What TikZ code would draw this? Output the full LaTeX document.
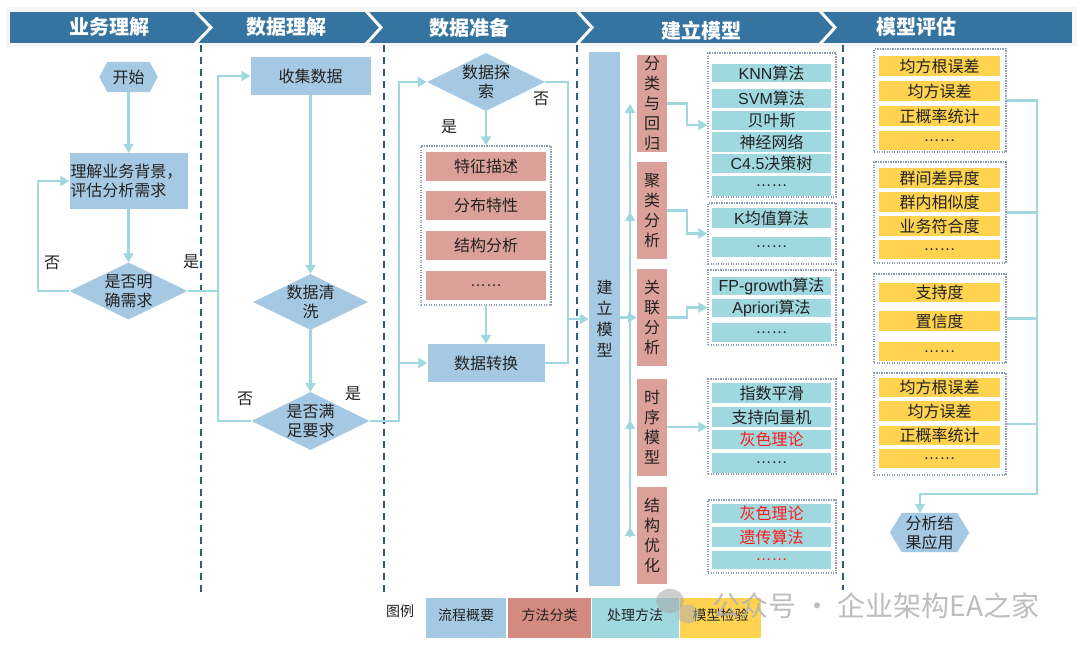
\documentclass[tikz,border=0pt]{standalone}
\usepackage{fontspec}
\setmainfont{Noto Sans CJK SC}
\newfontfamily\lat{Liberation Sans}
\usetikzlibrary{arrows.meta,shapes.geometric,calc}
\definecolor{cHdr}{HTML}{3574A1}
\definecolor{cDash}{HTML}{2D5A7B}
\definecolor{cBlue}{HTML}{A6C9E3}
\definecolor{cLine}{HTML}{A0D8E0}
\definecolor{cPink}{HTML}{DBA098}
\definecolor{cPinkL}{HTML}{D58A80}
\definecolor{cTeal}{HTML}{A0D8DF}
\definecolor{cYel}{HTML}{FFD34F}
\definecolor{cDot}{HTML}{8A9DB3}
\definecolor{cText}{HTML}{222222}
\definecolor{cRed}{HTML}{FF1A1A}
\pgfdeclarelayer{background}
\pgfsetlayers{background,main}
\begin{document}
\begin{tikzpicture}[x=1pt,y=-1pt,
  every node/.style={font=\fontsize{16}{19}\selectfont, text=cText, inner sep=0pt},
  conn/.style={draw=cLine, line width=2.2pt},
  arr/.style={conn, -{Triangle[length=9pt,width=10pt]}},
  bluebox/.style={fill=cBlue, rectangle},
  dia/.style={diamond, fill=cBlue, inner sep=0pt},
  pinkbox/.style={fill=cPink, minimum width=120, minimum height=29},
  cat/.style={fill=cPink, minimum width=30, minimum height=97, align=center, font=\fontsize{16}{20}\selectfont},
  item/.style={fill=cTeal, minimum width=119},
  yitem/.style={fill=cYel, minimum width=121, minimum height=20},
  grp/.style={draw=cDot, line width=1.2pt, dash pattern=on 1.2pt off 1.3pt},
  sep/.style={draw=cDash, line width=1.6pt, dash pattern=on 7pt off 5pt},
  hdrtxt/.style={text=white, font=\fontsize{20}{20}\selectfont\bfseries},
  lgd/.style={minimum width=#1, minimum height=40, font=\fontsize{14}{14}\selectfont}
]
\useasboundingbox (0,0) rectangle (1080,649);

% ---------- header band ----------
\fill[gray!7] (6,7) rectangle (1077,47);
\fill[cHdr] (10,12) rectangle (1072,43);
\foreach \x/\t in {195/211, 366/381, 577/592, 820/835}
  \draw[white, line width=3pt] (\x,11) -- (\t,27.5) -- (\x,44);
\node[hdrtxt] (h1) at (109,27) {业务理解};
\node[hdrtxt] (h2) at (286,27) {数据理解};
\node[hdrtxt] (h3) at (469,28) {数据准备};
\node[hdrtxt] (h4) at (701,31) {建立模型};
\node[hdrtxt] (h5) at (916,27) {模型评估};

% ---------- lane separators ----------
\draw[sep] (201,45) -- (201,592);
\draw[sep] (384,45) -- (384,593);
\draw[sep] (577,45) -- (577,593);
\draw[sep] (843,45) -- (843,590);

% ---------- column 1 ----------
\node[minimum width=58, minimum height=30] (start) at (128.5,77) {开始};
\node[align=left, text width=118, minimum height=56, fill=cBlue] (und) at (128.5,181) {\hspace*{1pt}理解业务背景，\\\hspace*{1pt}评估分析需求};
\node[dia, minimum width=118, minimum height=57, label={[align=center, font=\fontsize{16}{19}\selectfont]center:是否明\\确需求}] (clear) at (128.5,291) {};

% ---------- column 2 ----------
\node[bluebox, minimum width=120, minimum height=38] (collect) at (310.5,76) {收集数据};
\node[dia, minimum width=115, minimum height=56, label={[align=center, font=\fontsize{16}{19}\selectfont]center:数据清\\洗}] (clean) at (310.5,302) {};
\node[dia, minimum width=118, minimum height=58, label={[align=center, font=\fontsize{16}{19}\selectfont]center:是否满\\足要求}] (sat) at (310.5,421) {};

% ---------- column 3 ----------
\node[dia, minimum width=118, minimum height=58, label={[align=center, font=\fontsize{16}{19}\selectfont]center:数据探\\索}] (explore) at (486,82) {};
\node[grp, minimum width=130, minimum height=159] (dp) at (486,225.5) {};
\node[pinkbox] (p1) at (486,166.5) {特征描述};
\node[pinkbox] (p2) at (486,205.5) {分布特性};
\node[pinkbox] (p3) at (486,245) {结构分析};
\node[pinkbox] (p4) at (486,285.5) {\lat ……};
\node[bluebox, minimum width=117, minimum height=38] (trans) at (486,363) {数据转换};

% ---------- column 4 ----------
\node[bluebox, minimum width=31, minimum height=534, align=center, font=\fontsize{16}{21}\selectfont] (model) at (604.5,319) {建\\立\\模\\型};
\node[cat] (c1) at (652,103.5) {分\\类\\与\\回\\归};
\node[cat] (c2) at (652,210.5) {聚\\类\\分\\析};
\node[cat] (c3) at (652,317.5) {关\\联\\分\\析};
\node[cat] (c4) at (652,427) {时\\序\\模\\型};
\node[cat] (c5) at (652,535.5) {结\\构\\优\\化};

\node[grp, minimum width=128, minimum height=144] (g1) at (772,125) {};
\node[grp, minimum width=128, minimum height=61] (g2) at (772,233.5) {};
\node[grp, minimum width=128, minimum height=75] (g3) at (772,307.5) {};
\node[grp, minimum width=128, minimum height=95] (g4) at (772,426.5) {};
\node[grp, minimum width=128, minimum height=73] (g5) at (772,536.5) {};

\node[item, minimum height=18] (m11) at (771.5,73) {{\lat KNN}算法};
\node[item, minimum height=19] (m12) at (771.5,98.5) {{\lat SVM}算法};
\node[item, minimum height=19] (m13) at (771.5,120.5) {贝叶斯};
\node[item, minimum height=20] (m14) at (771.5,142) {神经网络};
\node[item, minimum height=19] (m15) at (771.5,163.5) {{\lat C4.5}决策树};
\node[item, minimum height=20] (m16) at (771.5,186) {\lat ……};
\node[item, minimum height=20] (m21) at (771.5,218) {{\lat K}均值算法};
\node[item, minimum height=20] (m22) at (771.5,247) {\lat ……};
\node[item, minimum height=18] (m31) at (771.5,286) {{\lat FP-growth}算法};
\node[item, minimum height=18] (m32) at (771.5,308) {{\lat Apriori}算法};
\node[item, minimum height=19] (m33) at (771.5,332.5) {\lat ……};
\node[item, minimum height=20] (m41) at (771.5,393) {指数平滑};
\node[item, minimum height=20] (m42) at (771.5,417) {支持向量机};
\node[item, minimum height=19, text=cRed] (m43) at (771.5,439.5) {灰色理论};
\node[item, minimum height=20] (m44) at (771.5,463) {\lat ……};
\node[item, minimum height=19, text=cRed] (m51) at (771.5,513.5) {灰色理论};
\node[item, minimum height=20, text=cRed] (m52) at (771.5,537) {遗传算法};
\node[item, minimum height=18, text=cRed] (m53) at (771.5,560) {\lat ……};

% ---------- column 5 ----------
\node[grp, minimum width=132, minimum height=103] (gA) at (940,100.5) {};
\node[grp, minimum width=132, minimum height=101] (gB) at (940,212.5) {};
\node[grp, minimum width=132, minimum height=89] (gC) at (940,318.5) {};
\node[grp, minimum width=132, minimum height=102] (gD) at (940,424) {};

\node[yitem] (e11) at (939.5,66) {均方根误差};
\node[yitem] (e12) at (939.5,91) {均方误差};
\node[yitem] (e13) at (939.5,116) {正概率统计};
\node[yitem, minimum height=19] (e14) at (939.5,140.5) {\lat ……};
\node[yitem] (e21) at (939.5,178) {群间差异度};
\node[yitem] (e22) at (939.5,202) {群内相似度};
\node[yitem] (e23) at (939.5,226) {业务符合度};
\node[yitem, minimum height=19] (e24) at (939.5,249.5) {\lat ……};
\node[yitem, minimum height=19] (e31) at (939.5,292.5) {支持度};
\node[yitem] (e32) at (939.5,321) {置信度};
\node[yitem, minimum height=19] (e33) at (939.5,351.5) {\lat ……};
\node[yitem, minimum height=19] (e41) at (939.5,387.5) {均方根误差};
\node[yitem] (e42) at (939.5,411) {均方误差};
\node[yitem, minimum height=19] (e43) at (939.5,435.5) {正概率统计};
\node[yitem, minimum height=19] (e44) at (939.5,458.5) {\lat ……};

\node[align=center, minimum width=79, minimum height=39] (res) at (929.5,532.5) {分析结\\果应用};

% background and hexagon fills
\begin{pgfonlayer}{background}
\fill[white] (0,0) rectangle (1080,649);
\fill[cBlue] (start.west) -- ([xshift=8]start.north west) -- ([xshift=-8]start.north east) -- (start.east) -- ([xshift=-8]start.south east) -- ([xshift=8]start.south west) -- cycle;
\fill[cBlue] (res.west) -- ([xshift=12]res.north west) -- ([xshift=-12]res.north east) -- (res.east) -- ([xshift=-12]res.south east) -- ([xshift=12]res.south west) -- cycle;
\end{pgfonlayer}

% ---------- labels ----------
\node (l1) at (52,263) {否};
\node (l2) at (191,262) {是};
\node (l3) at (245,399) {否};
\node (l4) at (353,394) {是};
\node (l5) at (449,127) {是};
\node (l6) at (541,99) {否};

% ---------- connectors ----------
\coordinate (j1) at (218,291);
\coordinate (bus2) at (399,363);
\coordinate (bus3) at (568,363);
\coordinate (bus3m) at (568,319);
\coordinate (mb) at (630,317.5);
\coordinate (mtop) at (630,104);
\coordinate (m2) at (630,212);
\coordinate (mbot) at (630,537);
\coordinate (m4a) at (630,432);
\coordinate (m4) at (630,420);
\coordinate (m5) at (630,527);
\coordinate (ebot) at (1037,494);

\draw[arr] (start) -- (und);
\draw[arr] (und) -- (clear);
\draw[arr] (clear.west) -- (38,291) |- (und.west);
\draw[arr] (clear.east) -- (j1) |- (collect.west);
\draw[arr] (collect) -- (clean);
\draw[arr] (clean) -- (sat);
\draw[conn] (sat.west) -| (j1);
\draw[arr] (sat.east) -| (bus2) |- (explore.west);
\draw[arr] (bus2) -- (trans.west);
\draw[arr] (explore) -- (dp);
\draw[arr] (dp) -- (trans);
\draw[conn] (explore.east) -| (bus3) -- (trans.east);
\draw[arr] (bus3m) -- (model.west);
\draw[arr] (model.east |- c3) -- (c3.west);
\draw[arr] (mb) -- (mtop);
\draw[arr] (mb) -- (m2);
\draw[conn] (mb) -- (mbot);
\draw[arr] (m4a) -- (m4);
\draw[arr] (mbot) -- (m5);

\draw[arr] (c1.east) -- (687,103.5) |- (g1.west);
\draw[arr] (c2.east) -- (687,210.5) |- (g2.west);
\draw[arr] (c3.east) -- (687,317.5) |- (g3.west);
\draw[arr] (c4.east) -- (g4.west |- c4.east);

\draw[arr] (gA.east) -| (ebot) -| ([xshift=-9.5]res.north);
\draw[conn] (gB.east) -- (gB.east -| ebot);
\draw[conn] (gC.east) -- (gC.east -| ebot);
\draw[conn] (gD.east) -- (gD.east -| ebot);

% ---------- legend ----------
\node[font=\fontsize{14}{14}\selectfont] (lg) at (400,611) {图例};
\node[lgd=80, fill=cBlue] (lg1) at (466,618) {\raisebox{6pt}{流程概要}};
\node[lgd=83, fill=cPinkL] (lg2) at (549.5,618) {\raisebox{6pt}{方法分类}};
\node[lgd=87, fill=cTeal] (lg3) at (635,618) {\raisebox{6pt}{处理方法}};
\node[lgd=81, fill=cYel] (lg4) at (720.5,618) {\raisebox{6pt}{模型检验}};

% ---------- watermark ----------
\fill[gray!70, opacity=0.55] (670,601) ellipse (14 and 12);
\fill[gray!60, opacity=0.55] (688,614) ellipse (11 and 9.5);
\node[text=gray!60, opacity=0.85, font=\fontsize{28}{28}\selectfont] (wm) at (876,606) {公众号 · 企业架构EA之家};
\end{tikzpicture}
\end{document}
